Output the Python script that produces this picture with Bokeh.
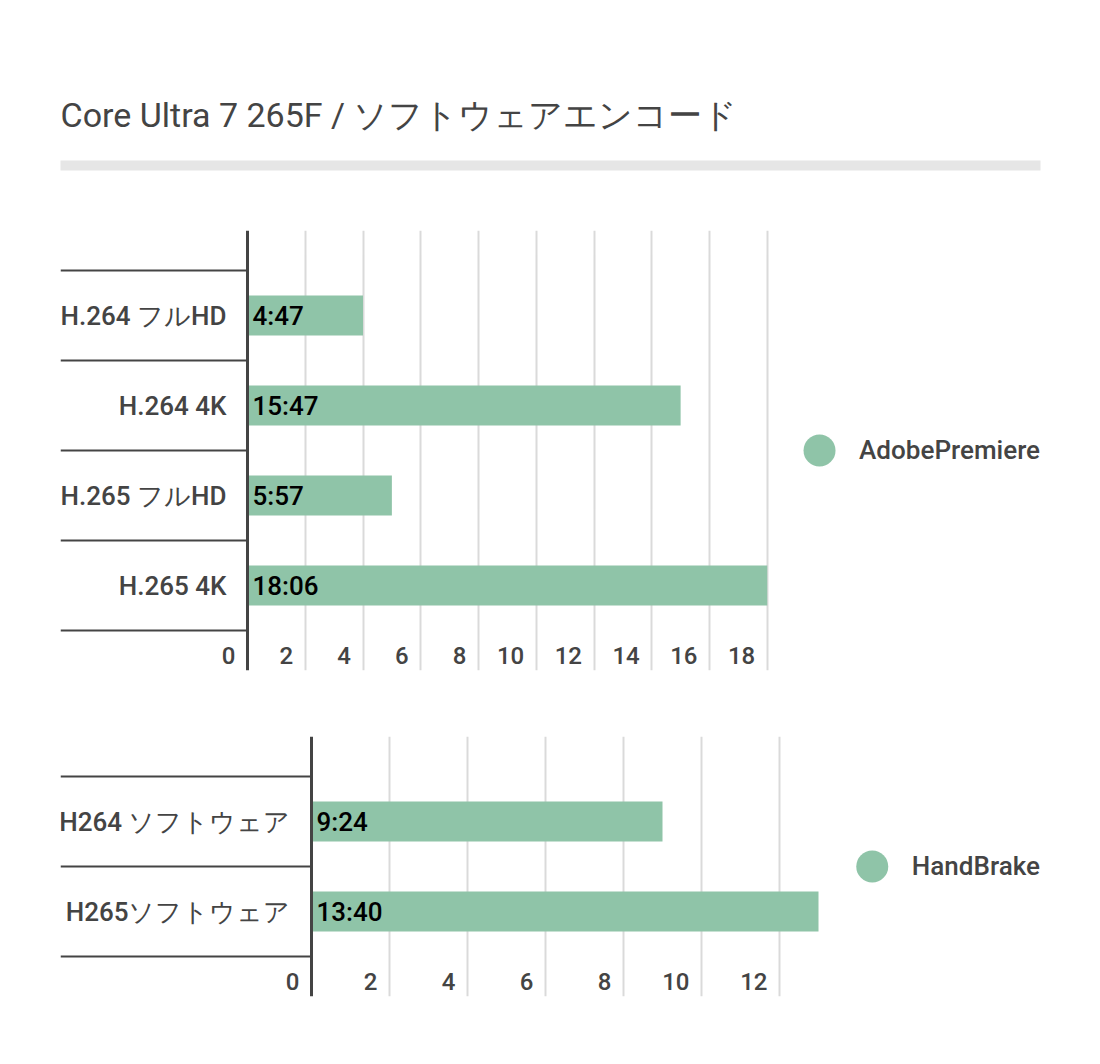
from bokeh.plotting import figure
from bokeh.models import (Range1d, FixedTicker, Grid, LabelSet, Span,
                          ColumnDataSource, Legend, LegendItem)
from bokeh.layouts import column
from bokeh.embed import file_html
from bokeh.resources import INLINE
from bokeh.core.properties import value

TITLE = "Core Ultra 7 265F / ソフトウェアエンコード"

adobe_series = "AdobePremiere"
adobe_categories = ["H.264 フルHD", "H.264 4K", "H.265 フルHD", "H.265 4K"]
adobe_values = [4, 15, 5, 18]
adobe_labels = ["4:47", "15:47", "5:57", "18:06"]
adobe_ticks = [0, 2, 4, 6, 8, 10, 12, 14, 16, 18]

hb_series = "HandBrake"
hb_categories = ["H264 ソフトウェア", "H265ソフトウェア"]
hb_values = [9, 13]
hb_labels = ["9:24", "13:40"]
hb_ticks = [0, 2, 4, 6, 8, 10, 12]

BAR = "#8fc4a8"
INK = "#444444"
GRID = "#dadada"
FONT = "Roboto"
FONT_M = "Roboto Medium"
W = 1084
LEFT = 60
FRAME_W = 980
ROW = 90
PAD = 40 / 90


def make_chart(cats, vals, labs, ticks, series, zero_px, unit_px, top, bottom):
    n = len(cats)
    ys = [n - i - 0.5 for i in range(n)]
    bounds = list(range(n + 1))
    fh = round((n + 2 * PAD) * ROW)
    x_lo = -zero_px / unit_px
    x_hi = (FRAME_W - zero_px) / unit_px
    y_lo = -PAD
    p = figure(width=W, height=top + fh + bottom,
               x_range=Range1d(x_lo, x_hi), y_range=Range1d(y_lo, n + PAD),
               x_axis_location=None, y_axis_location=None,
               toolbar_location=None, output_backend="svg",
               min_border_left=LEFT, min_border_right=W - LEFT - FRAME_W,
               min_border_top=top, min_border_bottom=bottom)
    p.outline_line_color = None
    p.grid.visible = False
    p.add_layout(Grid(dimension=0, ticker=FixedTicker(ticks=[t for t in ticks if t > 0]),
                      grid_line_color=GRID, grid_line_width=2))

    # category separators in the label column
    p.segment(x0=[x_lo] * len(bounds), x1=[0] * len(bounds), y0=bounds, y1=bounds,
              line_color=INK, line_width=2)

    src = ColumnDataSource(dict(y=ys, v=vals, lab=labs, cat=cats))
    p.hbar(y="y", right="v", left=0, height=40 / ROW, source=src,
           fill_color=BAR, line_color=None)
    p.text(x=0, y="y", text="lab", source=src, x_offset=5,
           text_align="left", text_baseline="middle",
           text_font=value(FONT_M), text_font_size="26px",
           text_color="#000000")

    p.add_layout(LabelSet(x=0, y="y", text="cat", source=src, x_offset=-21,
                          text_align="right", text_baseline="middle",
                          text_font=value(FONT_M), text_font_size="26px",
                          text_color=INK))

    # value axis baseline
    p.add_layout(Span(location=0, dimension="height", line_color=INK, line_width=3))

    tsrc = ColumnDataSource(dict(x=ticks, y=[y_lo] * len(ticks),
                                 t=[str(t) for t in ticks]))
    p.add_layout(LabelSet(x="x", y="y", text="t", source=tsrc,
                          x_offset=-12, y_offset=7,
                          text_align="right", text_baseline="alphabetic",
                          text_font=value(FONT_M), text_font_size="24px",
                          text_color=INK))

    dot = p.scatter(x="v", y="y", source=src, marker="circle", size=0,
                    fill_color=BAR, line_color=None)
    legend = Legend(items=[LegendItem(label=series, renderers=[dot])],
                    location="center_right", orientation="vertical",
                    glyph_width=80, glyph_height=80, label_standoff=-5,
                    margin=0, padding=0, border_line_color=None,
                    background_fill_alpha=0,
                    label_text_font=FONT_M, label_text_font_size="26px",
                    label_text_color=INK)
    p.add_layout(legend, "center")
    return p


header = figure(width=W, height=200, title=TITLE,
                x_range=Range1d(0, 1), y_range=Range1d(0, 1),
                x_axis_location=None, y_axis_location=None,
                toolbar_location=None, output_backend="svg",
                min_border_left=LEFT, min_border_right=W - LEFT - FRAME_W,
                min_border_top=160, min_border_bottom=30)
header.grid.visible = False
header.outline_line_color = None
header.background_fill_color = "#e6e6e6"
header.title.align = "left"
header.title.text_font = FONT
header.title.text_font_size = "34px"
header.title.text_font_style = "normal"
header.title.text_color = INK
header.title.standoff = 52

p1 = make_chart(adobe_categories, adobe_values, adobe_labels, adobe_ticks,
                adobe_series, 187, 28.875, 30, 30)
p2 = make_chart(hb_categories, hb_values, hb_labels, hb_ticks,
                hb_series, 251, 39.0, 36, 54)

layout = column(header, p1, p2)
open("out.html", "w").write(file_html(layout, INLINE))
